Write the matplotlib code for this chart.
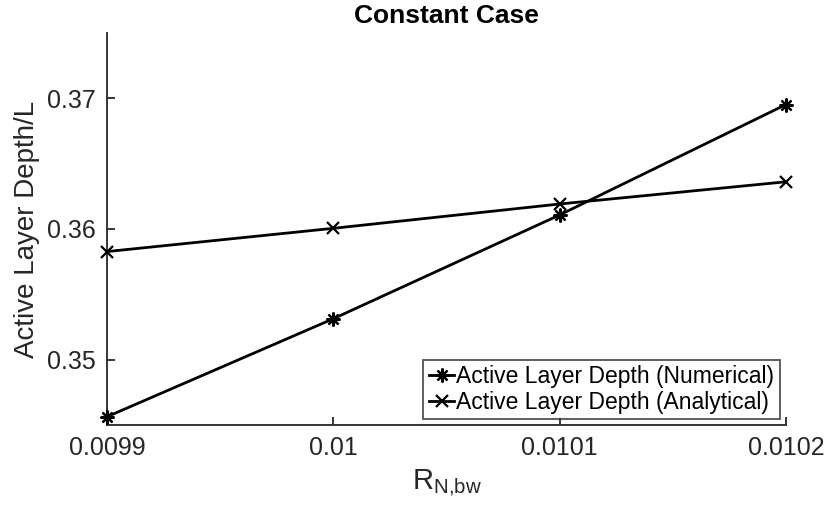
import numpy as np
import matplotlib
matplotlib.use("Agg")
import matplotlib.pyplot as plt
from matplotlib.ticker import FuncFormatter

plt.rcParams['font.family'] = ['Liberation Sans', 'DejaVu Sans']
plt.rcParams['mathtext.fontset'] = 'custom'
plt.rcParams['mathtext.rm'] = 'Liberation Sans'

# R_N,bw sweep and active layer depth (normalised by L)
r_nbw = [0.0099, 0.0100, 0.0101, 0.0102]
depth_numerical = [0.34563, 0.35313, 0.36107, 0.36952]
depth_analytical = [0.35827, 0.36005, 0.36191, 0.36361]

fig = plt.figure(figsize=(8.29, 5.23), dpi=100)
ax = fig.add_axes([0.129, 0.1874, 0.819, 0.7496])

ax.plot(r_nbw, depth_numerical, color='k', lw=2, marker=(8, 2, 0), ms=10, mew=1.6,
        clip_on=False, zorder=3, label='Active Layer Depth (Numerical)')
ax.plot(r_nbw, depth_analytical, color='k', lw=2, marker='x', ms=8, mew=1.6,
        clip_on=False, zorder=3, label='Active Layer Depth (Analytical)')

ax.set_xlim(0.0099, 0.0102)
ax.set_ylim(0.345, 0.375)
ax.set_xticks(r_nbw)
ax.set_yticks([0.35, 0.36, 0.37])
ax.xaxis.set_major_formatter(FuncFormatter(lambda v, p: '%g' % round(v, 6)))
ax.yaxis.set_major_formatter(FuncFormatter(lambda v, p: '%g' % round(v, 4)))

for s in ['top', 'right']:
    ax.spines[s].set_visible(False)
for s in ['left', 'bottom']:
    ax.spines[s].set_linewidth(1.3)
    ax.spines[s].set_color('#262626')
ax.tick_params(direction='in', length=6, width=1.3, color='#262626',
               labelsize=18, labelcolor='#262626', pad=8)

ax.set_xlabel(r'R$_{\mathregular{N{,}bw}}$', fontsize=21, color='#262626', labelpad=6)
ax.set_ylabel('Active Layer Depth/L', fontsize=20, color='#262626', labelpad=5)
ax.set_title('Constant Case', fontsize=19, fontweight='bold', pad=7)

leg = ax.legend(loc='lower right', fontsize=16.5, frameon=True, fancybox=False,
                edgecolor='#262626', handlelength=1.1, handletextpad=0.1,
                borderpad=0.25, labelspacing=0.1, borderaxespad=0.25)
leg.get_frame().set_linewidth(1.3)
leg.set_zorder(5)

fig.savefig('out.png', dpi=100)
